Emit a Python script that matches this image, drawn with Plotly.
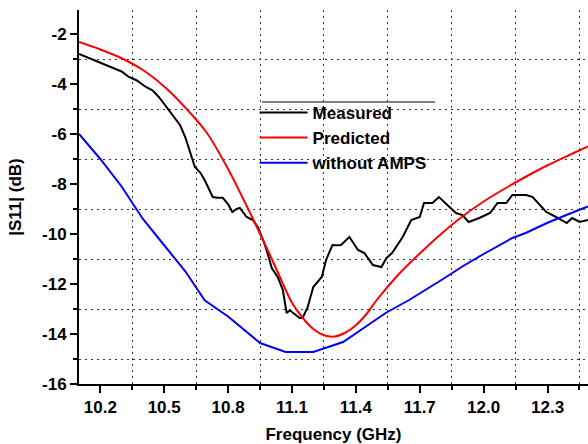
import plotly.graph_objects as go

# Frequency sweep (GHz) and |S11| (dB) for each curve
meas_f = [10.10, 10.15, 10.20, 10.255, 10.30, 10.334, 10.37, 10.414, 10.445, 10.475,
          10.52, 10.55, 10.575, 10.60, 10.62, 10.644, 10.67, 10.69, 10.71, 10.728,
          10.75, 10.775, 10.80, 10.82, 10.84, 10.855, 10.887, 10.916, 10.94, 10.97,
          10.99, 11.005, 11.033, 11.057, 11.075, 11.09, 11.10, 11.136, 11.15, 11.174,
          11.20, 11.24, 11.26, 11.29, 11.31, 11.33, 11.37, 11.41, 11.44, 11.48,
          11.52, 11.544, 11.57, 11.62, 11.66, 11.70, 11.72, 11.76, 11.79, 11.84,
          11.87, 11.90, 11.93, 11.98, 12.03, 12.065, 12.106, 12.135, 12.20, 12.23,
          12.294, 12.34, 12.39, 12.416, 12.45, 12.49]
meas_db = [-2.80, -2.97, -3.13, -3.32, -3.50, -3.72, -3.85, -4.12, -4.25, -4.52,
           -5.04, -5.35, -5.65, -6.15, -6.64, -7.32, -7.55, -7.84, -8.20, -8.52,
           -8.55, -8.55, -8.80, -9.12, -9.00, -8.96, -9.32, -9.44, -9.72, -10.36,
           -10.90, -11.36, -11.72, -12.24, -13.16, -13.05, -13.12, -13.36, -13.36, -12.92,
           -12.12, -11.72, -11.04, -10.44, -10.45, -10.44, -10.12, -10.64, -10.76, -11.24,
           -11.32, -10.96, -10.76, -10.12, -9.44, -9.32, -8.76, -8.76, -8.52, -8.92,
           -9.16, -9.24, -9.52, -9.36, -9.16, -8.76, -8.76, -8.44, -8.44, -8.52,
           -9.12, -9.32, -9.56, -9.36, -9.52, -9.44]

pred_f = [10.10, 10.20, 10.30, 10.40, 10.50, 10.60, 10.70, 10.80, 10.90, 11.00,
          11.10, 11.15, 11.20, 11.25, 11.30, 11.35, 11.40, 11.45, 11.50, 11.60,
          11.70, 11.80, 11.90, 12.00, 12.10, 12.20, 12.30, 12.40, 12.49]
pred_db = [-2.32, -2.62, -2.97, -3.44, -4.10, -4.95, -5.95, -7.40, -9.10, -10.90,
           -12.75, -13.35, -13.80, -14.05, -14.10, -13.95, -13.65, -13.20, -12.62, -11.62,
           -10.78, -10.00, -9.30, -8.70, -8.18, -7.70, -7.25, -6.85, -6.50]

noamps_f = [10.10, 10.20, 10.30, 10.40, 10.50, 10.60, 10.69, 10.80, 10.95, 11.07,
            11.20, 11.34, 11.54, 11.65, 11.80, 11.90, 12.00, 12.135, 12.20, 12.30,
            12.40, 12.49]
noamps_db = [-6.00, -7.00, -8.10, -9.40, -10.45, -11.50, -12.65, -13.30, -14.36, -14.72,
             -14.72, -14.32, -13.16, -12.64, -11.85, -11.30, -10.80, -10.16, -9.95, -9.55,
             -9.20, -8.90]

y_ticks = [-16, -14, -12, -10, -8, -6, -4, -2]
y_ticktext = [str(v) for v in y_ticks]

FONT = "Arial, Liberation Sans, sans-serif"

fig = go.Figure()
fig.add_trace(go.Scatter(x=meas_f, y=meas_db, mode="lines", name="Measured",
                         line=dict(color="black", width=2)))
fig.add_trace(go.Scatter(x=pred_f, y=pred_db, mode="lines", name="Predicted",
                         line=dict(color="#ff0000", width=2, shape="spline", smoothing=0.8)))
fig.add_trace(go.Scatter(x=noamps_f, y=noamps_db, mode="lines", name="without AMPS",
                         line=dict(color="#0000ff", width=2)))

grid_style = dict(showgrid=True, gridcolor="#333333", gridwidth=1, griddash="2px,4px")

# legend panel: white box with a grey rule along its top edge
LEG_L, LEG_R, LEG_T, LEG_B = 262, 435, 102, 172
def px_x(p):
    return (p - 79) / 509
def px_y(p):
    return (384 - p) / 374

fig.update_layout(
    width=588, height=444,
    margin=dict(l=79, r=0, t=10, b=60),
    paper_bgcolor="white", plot_bgcolor="white",
    font=dict(family=FONT, size=17, color="black", weight="bold"),
    showlegend=True,
    legend=dict(x=0.345, y=0.773, xanchor="left", yanchor="top",
                bgcolor="rgba(0,0,0,0)", borderwidth=0,
                font=dict(family=FONT, size=17, color="black", weight="bold"),
                tracegroupgap=0, itemwidth=48),
    xaxis=dict(
        range=[10.1, 12.49], tickmode="linear", tick0=10.2, dtick=0.3, tickformat=".1f",
        ticks="outside", ticklen=7, tickwidth=1.5, tickcolor="black",
        showline=True, linecolor="black", linewidth=2, showgrid=False, zeroline=False,
        minor=dict(tick0=10.35, dtick=0.3, ticks="outside", ticklen=4, tickcolor="black",
                   **grid_style),
        title=dict(text="Frequency (GHz)", standoff=15,
                   font=dict(family=FONT, size=17, weight="bold")),
        tickfont=dict(family=FONT, size=17, weight="bold"),
    ),
    yaxis=dict(
        range=[-16, -1.04], tickmode="array", tickvals=y_ticks, ticktext=y_ticktext,
        ticks="outside", ticklen=7, tickwidth=1.5, tickcolor="black",
        showline=True, linecolor="black", linewidth=2, showgrid=False, zeroline=False,
        minor=dict(tick0=-3, dtick=2, ticks="outside", ticklen=4, tickcolor="black",
                   **grid_style),
        title=dict(text="|S11| (dB)", standoff=16,
                   font=dict(family=FONT, size=17, weight="bold")),
        tickfont=dict(family=FONT, size=17, weight="bold"),
    ),
)

fig.add_shape(type="rect", xref="paper", yref="paper", layer="below",
              x0=px_x(LEG_L), x1=px_x(LEG_R), y0=px_y(LEG_B), y1=px_y(LEG_T),
              fillcolor="white", line=dict(width=0))
fig.add_shape(type="line", xref="paper", yref="paper",
              x0=px_x(LEG_L), x1=px_x(LEG_R), y0=px_y(LEG_T), y1=px_y(LEG_T),
              line=dict(color="#555555", width=1.5))

fig.write_html("out.html")
